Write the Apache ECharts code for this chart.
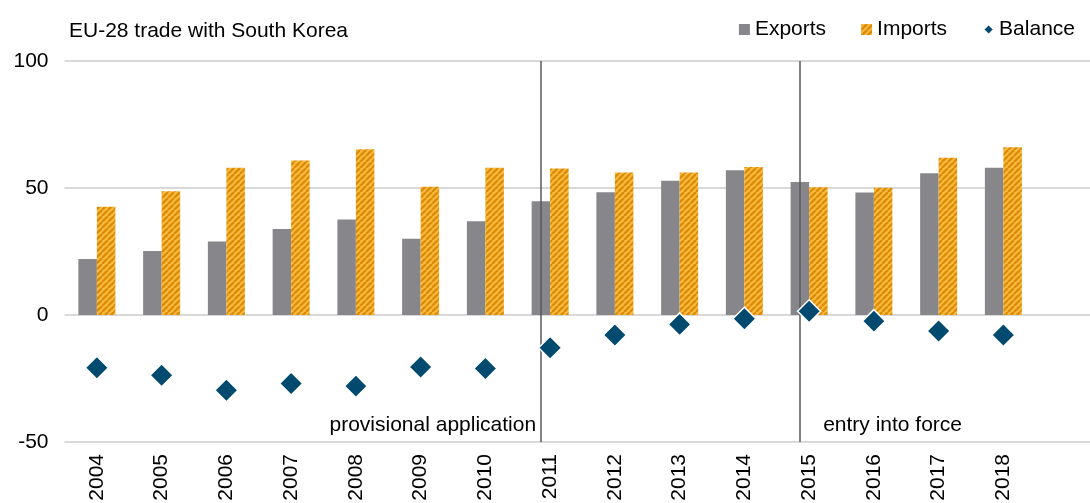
<!DOCTYPE html>
<html>
<head>
<meta charset="utf-8">
<script src="https://cdn.jsdelivr.net/npm/echarts@6/dist/echarts.min.js"></script>
<style>
  html, body { margin: 0; padding: 0; background: #fff; }
  #main { width: 1090px; height: 503px; }
</style>
</head>
<body>
<div id="main"></div>
<script>
// data (EUR bn)
const years = ['2004', '2005', '2006', '2007', '2008', '2009', '2010', '2011',
  '2012', '2013', '2014', '2015', '2016', '2017', '2018', ''];
const exportsEU = [22.0, 25.2, 28.9, 33.9, 37.6, 30.0, 36.9, 44.8, 48.3, 52.9, 57.0, 52.4, 48.2, 55.8, 58.0];
const importsEU = [42.6, 48.7, 58.0, 60.8, 65.3, 50.5, 58.0, 57.7, 56.1, 56.1, 58.3, 50.3, 50.1, 61.9, 66.0];
const balance = [-20.8, -23.7, -29.6, -27.0, -28.0, -20.5, -21.1, -12.9, -7.9, -3.7, -1.5, 1.5, -2.4, -6.3, -7.9];
const yTicks = [-50, 0, 50, 100];
const milestones = [
  { year: '2011', text: 'provisional application', side: 'left' },
  { year: '2015', text: 'entry into force', side: 'right' }
];

const font = "'Liberation Sans', Arial, sans-serif";

// orange diagonal hatch used for imports
function hatch() {
  const c = document.createElement('canvas');
  const p = 6;
  c.width = p;
  c.height = p;
  const ctx = c.getContext('2d');
  ctx.fillStyle = '#F9BC45';
  ctx.fillRect(0, 0, p, p);
  ctx.strokeStyle = '#DE8C05';
  ctx.lineWidth = 2.4;
  for (let k = -1; k <= 1; k++) {
    ctx.beginPath();
    ctx.moveTo(k * p, p);
    ctx.lineTo(k * p + p, 0);
    ctx.stroke();
  }
  return c;
}

const myChart = echarts.init(document.getElementById('main'));

myChart.setOption({
  animation: false,
  textStyle: { fontFamily: font },
  title: {
    text: 'EU-28 trade with South Korea',
    left: 64,
    top: 16,
    textStyle: { fontFamily: font, fontSize: 21, fontWeight: 'normal', color: '#000' }
  },
  legend: {
    right: 10,
    top: 14,
    itemWidth: 11,
    itemHeight: 11,
    itemGap: 35,
    textStyle: { fontFamily: font, fontSize: 21, color: '#000' },
    data: [
      { name: 'Exports', icon: 'rect' },
      { name: 'Imports', icon: 'rect' },
      { name: 'Balance', icon: 'diamond' }
    ]
  },
  grid: { left: 64.5, top: 61, width: 1036, height: 381, outerBoundsMode: 'none' },
  xAxis: {
    type: 'category',
    data: years,
    axisLine: { show: false },
    axisTick: { show: false },
    axisLabel: { rotate: 90, margin: 12, fontSize: 21, color: '#000', fontFamily: font, interval: 0 }
  },
  yAxis: {
    type: 'value',
    min: yTicks[0],
    max: yTicks[yTicks.length - 1],
    interval: 50,
    axisLabel: { fontSize: 21, color: '#000', margin: 16, fontFamily: font },
    splitLine: { lineStyle: { color: '#D9D9D9', width: 2 } }
  },
  series: [
    {
      name: 'Exports',
      type: 'bar',
      data: exportsEU,
      barWidth: 18.5,
      barGap: '0%',
      itemStyle: { color: '#87868B' },
      markLine: {
        silent: true,
        symbol: 'none',
        label: { show: false },
        lineStyle: { color: '#595959', width: 1.5, type: 'solid' },
        data: milestones.map(m => ({ xAxis: m.year }))
      }
    },
    {
      name: 'Imports',
      type: 'bar',
      data: importsEU,
      barWidth: 18.5,
      itemStyle: { color: { image: hatch(), repeat: 'repeat' } }
    },
    {
      name: 'Balance',
      type: 'scatter',
      data: balance,
      symbol: 'diamond',
      symbolSize: 23,
      itemStyle: { color: '#004A70', opacity: 1, borderColor: '#fff', borderWidth: 1.5 },
      z: 5,
      markPoint: {
        silent: true,
        symbol: 'rect',
        symbolSize: 0,
        label: {
          show: true,
          formatter: '{b}',
          fontSize: 21,
          color: '#000',
          fontFamily: font,
          distance: 14
        },
        data: milestones.map(m => ({
          name: m.text,
          coord: [m.year, -43.2],
          label: { position: m.side }
        }))
      }
    }
  ]
});
</script>
</body>
</html>
